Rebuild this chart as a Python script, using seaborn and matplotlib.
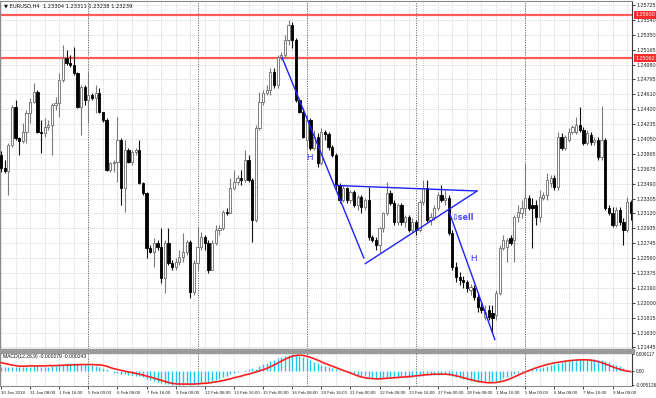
import numpy as np
import matplotlib
matplotlib.use("Agg")
import matplotlib.pyplot as plt
import seaborn as sns
from matplotlib.patches import Rectangle

sns.set_style("white")
plt.rcParams["font.family"] = ["Liberation Sans", "DejaVu Sans"]

# ---------------- data (EURUSD H4) ----------------
opens = [1.2385, 1.2369, 1.2365, 1.2397, 1.2445, 1.2406, 1.2402, 1.2414, 1.2437, 1.2451,
         1.2464, 1.2414, 1.2412, 1.2420, 1.2422, 1.2447, 1.2450, 1.2479, 1.2506, 1.2500,
         1.2497, 1.2487, 1.2445, 1.2470, 1.2454, 1.2460, 1.2456, 1.2462, 1.2439, 1.2429,
         1.2366, 1.2375, 1.2376, 1.2404, 1.2344, 1.2391, 1.2376, 1.2389, 1.2391, 1.2350,
         1.2337, 1.2269, 1.2264, 1.2275, 1.2270, 1.2231, 1.2275, 1.2250, 1.2245, 1.2251,
         1.2257, 1.2264, 1.2276, 1.2214, 1.2250, 1.2270, 1.2282, 1.2275, 1.2241, 1.2275,
         1.2291, 1.2294, 1.2314, 1.2312, 1.2344, 1.2351, 1.2356, 1.2354, 1.2379, 1.2354,
         1.2304, 1.2419, 1.2451, 1.2462, 1.2466, 1.2489, 1.2472, 1.2507, 1.2510, 1.2529,
         1.2547, 1.2529, 1.2454, 1.2439, 1.2404, 1.2429, 1.2394, 1.2407, 1.2375, 1.2414,
         1.2411, 1.2395, 1.2385, 1.2347, 1.2329, 1.2344, 1.2329, 1.2339, 1.2322, 1.2332,
         1.2320, 1.2329, 1.2282, 1.2279, 1.2272, 1.2294, 1.2312, 1.2337, 1.2325, 1.2301,
         1.2322, 1.2301, 1.2307, 1.2291, 1.2301, 1.2291, 1.2326, 1.2344, 1.2304, 1.2307,
         1.2319, 1.2335, 1.2329, 1.2331, 1.2287, 1.2245, 1.2232, 1.2229, 1.2226, 1.2216,
         1.2219, 1.2207, 1.2195, 1.2182, 1.2191, 1.2187, 1.2185, 1.2212, 1.2269, 1.2270,
         1.2281, 1.2279, 1.2307, 1.2312, 1.2319, 1.2331, 1.2322, 1.2322, 1.2307, 1.2331,
         1.2335, 1.2350, 1.2356, 1.2345, 1.2407, 1.2394, 1.2404, 1.2414, 1.2414, 1.2422,
         1.2416, 1.2400, 1.2410, 1.2401, 1.2404, 1.2382, 1.2404, 1.2319, 1.2312, 1.2297,
         1.2316, 1.2301, 1.2291, 1.2326]
highs = [1.2390, 1.2379, 1.2400, 1.2447, 1.2454, 1.2407, 1.2425, 1.2441, 1.2456, 1.2475,
         1.2466, 1.2429, 1.2431, 1.2429, 1.2450, 1.2457, 1.2487, 1.2522, 1.2516, 1.2510,
         1.2520, 1.2489, 1.2472, 1.2472, 1.2489, 1.2462, 1.2472, 1.2469, 1.2439, 1.2431,
         1.2376, 1.2379, 1.2432, 1.2406, 1.2404, 1.2394, 1.2391, 1.2394, 1.2404, 1.2351,
         1.2339, 1.2272, 1.2281, 1.2279, 1.2294, 1.2279, 1.2294, 1.2254, 1.2256, 1.2266,
         1.2287, 1.2279, 1.2279, 1.2254, 1.2295, 1.2289, 1.2285, 1.2279, 1.2279, 1.2297,
         1.2297, 1.2316, 1.2319, 1.2356, 1.2366, 1.2360, 1.2366, 1.2391, 1.2385, 1.2356,
         1.2422, 1.2464, 1.2466, 1.2472, 1.2494, 1.2494, 1.2510, 1.2514, 1.2535, 1.2554,
         1.2551, 1.2531, 1.2456, 1.2444, 1.2435, 1.2431, 1.2416, 1.2412, 1.2419, 1.2416,
         1.2414, 1.2397, 1.2387, 1.2350, 1.2347, 1.2345, 1.2341, 1.2341, 1.2335, 1.2335,
         1.2331, 1.2345, 1.2285, 1.2282, 1.2295, 1.2314, 1.2351, 1.2341, 1.2329, 1.2325,
         1.2325, 1.2310, 1.2310, 1.2306, 1.2304, 1.2329, 1.2354, 1.2354, 1.2312, 1.2322,
         1.2339, 1.2347, 1.2341, 1.2335, 1.2291, 1.2251, 1.2239, 1.2234, 1.2229, 1.2224,
         1.2222, 1.2214, 1.2201, 1.2198, 1.2198, 1.2198, 1.2216, 1.2272, 1.2285, 1.2281,
         1.2285, 1.2310, 1.2322, 1.2329, 1.2375, 1.2335, 1.2331, 1.2329, 1.2341, 1.2339,
         1.2362, 1.2360, 1.2360, 1.2414, 1.2412, 1.2410, 1.2419, 1.2422, 1.2432, 1.2445,
         1.2420, 1.2416, 1.2414, 1.2407, 1.2407, 1.2446, 1.2406, 1.2322, 1.2320, 1.2320,
         1.2320, 1.2306, 1.2332, 1.2329]
lows = [1.2364, 1.2362, 1.2335, 1.2395, 1.2404, 1.2385, 1.2400, 1.2400, 1.2425, 1.2450,
        1.2412, 1.2387, 1.2407, 1.2416, 1.2385, 1.2441, 1.2432, 1.2476, 1.2497, 1.2495,
        1.2485, 1.2444, 1.2410, 1.2447, 1.2425, 1.2454, 1.2437, 1.2437, 1.2426, 1.2365,
        1.2364, 1.2364, 1.2351, 1.2322, 1.2314, 1.2375, 1.2372, 1.2385, 1.2349, 1.2335,
        1.2256, 1.2262, 1.2245, 1.2266, 1.2225, 1.2212, 1.2247, 1.2241, 1.2241, 1.2247,
        1.2251, 1.2260, 1.2206, 1.2210, 1.2241, 1.2266, 1.2266, 1.2237, 1.2241, 1.2272,
        1.2285, 1.2291, 1.2310, 1.2312, 1.2341, 1.2347, 1.2347, 1.2351, 1.2351, 1.2276,
        1.2301, 1.2416, 1.2447, 1.2460, 1.2460, 1.2469, 1.2469, 1.2504, 1.2506, 1.2522,
        1.2519, 1.2451, 1.2437, 1.2406, 1.2394, 1.2391, 1.2391, 1.2370, 1.2372, 1.2404,
        1.2391, 1.2382, 1.2341, 1.2325, 1.2326, 1.2325, 1.2325, 1.2320, 1.2316, 1.2312,
        1.2316, 1.2279, 1.2276, 1.2266, 1.2262, 1.2289, 1.2310, 1.2322, 1.2297, 1.2297,
        1.2297, 1.2295, 1.2289, 1.2287, 1.2285, 1.2289, 1.2322, 1.2301, 1.2297, 1.2304,
        1.2316, 1.2326, 1.2322, 1.2285, 1.2241, 1.2226, 1.2222, 1.2219, 1.2214, 1.2210,
        1.2204, 1.2189, 1.2187, 1.2179, 1.2179, 1.2162, 1.2179, 1.2210, 1.2266, 1.2251,
        1.2272, 1.2251, 1.2301, 1.2306, 1.2310, 1.2316, 1.2269, 1.2297, 1.2301, 1.2329,
        1.2329, 1.2345, 1.2341, 1.2341, 1.2391, 1.2391, 1.2401, 1.2411, 1.2411, 1.2414,
        1.2397, 1.2397, 1.2397, 1.2397, 1.2379, 1.2379, 1.2316, 1.2310, 1.2295, 1.2295,
        1.2297, 1.2272, 1.2289, 1.2304]
closes = [1.2369, 1.2365, 1.2397, 1.2445, 1.2406, 1.2402, 1.2414, 1.2437, 1.2451, 1.2464,
          1.2414, 1.2412, 1.2420, 1.2422, 1.2447, 1.2450, 1.2479, 1.2506, 1.2500, 1.2497,
          1.2487, 1.2445, 1.2470, 1.2454, 1.2460, 1.2456, 1.2462, 1.2439, 1.2429, 1.2366,
          1.2375, 1.2376, 1.2404, 1.2344, 1.2391, 1.2376, 1.2389, 1.2391, 1.2350, 1.2337,
          1.2269, 1.2264, 1.2275, 1.2270, 1.2231, 1.2275, 1.2250, 1.2245, 1.2251, 1.2257,
          1.2264, 1.2276, 1.2214, 1.2250, 1.2270, 1.2282, 1.2275, 1.2241, 1.2275, 1.2291,
          1.2294, 1.2314, 1.2312, 1.2344, 1.2351, 1.2356, 1.2354, 1.2379, 1.2354, 1.2304,
          1.2419, 1.2451, 1.2462, 1.2466, 1.2489, 1.2472, 1.2507, 1.2510, 1.2529, 1.2547,
          1.2529, 1.2454, 1.2439, 1.2407, 1.2429, 1.2394, 1.2407, 1.2375, 1.2414, 1.2411,
          1.2395, 1.2385, 1.2347, 1.2329, 1.2344, 1.2329, 1.2339, 1.2322, 1.2332, 1.2320,
          1.2329, 1.2282, 1.2279, 1.2272, 1.2294, 1.2312, 1.2337, 1.2325, 1.2301, 1.2322,
          1.2301, 1.2307, 1.2291, 1.2301, 1.2291, 1.2326, 1.2344, 1.2304, 1.2307, 1.2319,
          1.2335, 1.2329, 1.2331, 1.2287, 1.2245, 1.2232, 1.2229, 1.2226, 1.2219, 1.2220,
          1.2207, 1.2195, 1.2191, 1.2189, 1.2182, 1.2181, 1.2212, 1.2269, 1.2279, 1.2279,
          1.2275, 1.2307, 1.2314, 1.2319, 1.2331, 1.2319, 1.2319, 1.2307, 1.2332, 1.2335,
          1.2354, 1.2356, 1.2345, 1.2407, 1.2394, 1.2407, 1.2414, 1.2420, 1.2422, 1.2416,
          1.2400, 1.2412, 1.2401, 1.2404, 1.2382, 1.2404, 1.2319, 1.2312, 1.2297, 1.2316,
          1.2301, 1.2291, 1.2326, 1.2312]

# MACD main values (histogram) and signal line, in units of 0.0001
macd_main = [15, 14, 13, 13, 15, 15, 14, 14, 15,
             16, 16, 15, 15, 15, 16, 17,
             20, 24, 27, 28, 28, 27, 26, 25,
             23, 20, 17, 14, 10, 5,
             -2, -6, -8, -12, -13, -15, -16, -17, -20,
             -23, -30, -34, -38, -41, -44, -46, -48, -50,
             -51, -51, -50, -49, -50, -49, -47, -45,
             -42, -40, -37, -33, -29, -24, -19, -13,
             -8, -4, 0,
             4, 7, 9, 8, 17, 24, 30,
             35, 40, 45, 50, 55, 59, 61,
             59, 55, 50, 45, 39, 33, 27, 22, 17, 13,
             9, 5, 2, -2, -5,
             -8, -11, -14, -17, -19, -22, -25, -27, -28, -27, -25,
             -24, -24, -24, -23, -22, -22, -21, -21, -19, -17, -16, -16, -15, -14, -13, -13,
             -15, -19, -23, -27, -30, -33, -35, -37, -39, -40, -41, -41, -40, -37, -32,
             -27, -22, -18, -13, -9, -5, -1,
             3, 6, 9, 12, 15, 19, 22, 25, 30, 33, 36, 39, 41,
             43, 44, 44, 44, 43, 42, 41,
             39, 36, 31, 26, 21, 16, 10, 4, -2.79]
macd_signal = [30, 27, 24, 21, 19, 17, 17, 17, 18, 18,
               18, 18, 18, 19, 19, 19, 20, 20, 21, 21,
               22, 22, 23, 23, 23, 23, 22, 22, 20, 17,
               12, 8, 5, 2, -1, -4, -6, -9, -12, -15,
               -19, -22, -26, -30, -34, -38, -42, -45, -47, -48,
               -48, -48, -48, -48, -47, -46, -45, -44, -42, -40,
               -38, -35, -32, -29, -25, -22, -19, -15, -12, -8,
               -4, 0, 4, 9, 15, 21, 28, 35, 42, 48,
               53, 56, 57, 56, 53, 49, 44, 39, 33, 27,
               22, 17, 12, 7, 2, -3, -8, -13, -18, -22,
               -25, -27, -28, -29, -29, -28, -27, -26, -25, -24,
               -23, -22, -21, -20, -18, -17, -15, -14, -13, -12,
               -12, -12, -12, -13, -15, -18, -21, -25, -28, -32,
               -35, -38, -40, -42, -43, -43, -42, -40, -37, -33,
               -28, -22, -16, -10, -4, 1, 6, 11, 15, 19,
               23, 26, 29, 31, 33, 35, 37, 38, 39, 40,
               40, 40, 39, 37, 34, 30, 25, 20, 15, 10,
               6, 2, -1, -2.43]

price_ticks = [1.25725, 1.25540, 1.25350, 1.25165, 1.24980, 1.24795, 1.24610, 1.24420,
               1.24235, 1.24050, 1.23865, 1.23675, 1.23490, 1.23305, 1.23120, 1.22935,
               1.22745, 1.22560, 1.22375, 1.22190, 1.22000, 1.21815, 1.21630, 1.21445]
time_labels = ["30 Jan 2018", "31 Jan 08:00", "1 Feb 16:00", "5 Feb 00:00", "6 Feb 08:00",
               "7 Feb 16:00", "9 Feb 00:00", "12 Feb 08:00", "13 Feb 16:00", "15 Feb 00:00",
               "16 Feb 08:00", "19 Feb 16:00", "21 Feb 00:00", "22 Feb 08:00", "23 Feb 16:00",
               "27 Feb 00:00", "28 Feb 08:00", "1 Mar 16:00", "5 Mar 00:00", "6 Mar 08:00",
               "7 Mar 16:00", "9 Mar 00:00"]
week_starts = [24, 54, 84, 114, 144]          # bar index of each Monday 00:00
resistance_levels = [1.25600, 1.25062]
macd_ticks = [0.006117, 0.0, -0.005126]
macd_tick_labels = ["0.006117", "0.00", "-0.005126"]

# drawn objects: (bar index, price) pairs
pole_line = [(77.2, 1.2507), (99.7, 1.2256)]
flag_top = [(91.8, 1.2347), (130.8, 1.2340)]
flag_bottom = [(100.0, 1.2249), (130.8, 1.2340)]
target_line = [(123.1, 1.2314), (135.7, 1.2154)]
h_labels = [(84.6, 1.2382), (129.7, 1.2256)]
sell_label = (123.9, 1.2307)

header = "EURUSD,H4  1.23304 1.23311 1.23238 1.23239"
macd_header = "MACD(12,26,9) -0.000279 -0.000243"

# ---------------- figure ----------------
W, H = 656, 398
fig = plt.figure(figsize=(W / 100, H / 100), dpi=100)
fig.patch.set_facecolor("white")


def rect(x0, y0, x1, y1):
    return [x0 / W, 1 - y1 / H, (x1 - x0) / W, (y1 - y0) / H]


ax = fig.add_axes(rect(0, 1, 632, 349))
axm = fig.add_axes(rect(0, 352, 632, 386), sharex=ax)

n = len(opens)
idx = np.arange(n)
o = np.array(opens); c = np.array(closes); hi = np.array(highs); lo = np.array(lows)
bull = c >= o

XMIN, XMAX = -0.275, 173.35
grid_kw = dict(color="#c6c6c6", lw=0.6, ls=(0, (1, 1.5)), zorder=0)
sep_kw = dict(color="#5a5a5a", lw=0.7, ls=(0, (1, 1.5)), zorder=0.5)

for a in (ax, axm):
    for xv in range(0, n, 4):
        a.axvline(xv, **grid_kw)
    for xv in week_starts:
        a.axvline(xv, **sep_kw)
for yv in price_ticks:
    ax.axhline(yv, **grid_kw)

# resistance lines
for lvl in resistance_levels:
    ax.axhline(lvl, color="#ff5b5b", lw=1.6, zorder=1)

# candles: wicks then bodies
ax.vlines(idx[bull], lo[bull], hi[bull], color="#7a7a7a", lw=0.8, zorder=2)
ax.vlines(idx[~bull], lo[~bull], hi[~bull], color="#111111", lw=0.8, zorder=2)
body_min = 0.00004
hb = np.maximum(np.abs(c - o), body_min)
ax.bar(idx[bull], hb[bull], bottom=np.minimum(o, c)[bull], width=0.62,
       color="white", edgecolor="#6a6a6a", linewidth=0.6, zorder=3)
ax.bar(idx[~bull], hb[~bull], bottom=np.minimum(o, c)[~bull], width=0.62,
       color="black", edgecolor="black", linewidth=0.6, zorder=3)

# pattern drawings
for seg in (pole_line, flag_top, flag_bottom, target_line):
    xs, ys = zip(*seg)
    ax.plot(xs, ys, color="#1f1fff", lw=1.0, zorder=4)
for hx, hy in h_labels:
    ax.text(hx, hy, "H", color="#2a2aff", fontsize=6.4, ha="center", va="center", zorder=5)
ax.text(sell_label[0], sell_label[1], "\u21e9sell", color="#4a4aff", fontsize=5.8,
        fontweight="bold", ha="left", va="center", family=["DejaVu Sans"], zorder=5)

ax.set_xlim(XMIN, XMAX)
ax.set_ylim(1.21425, 1.25775)

# right price axis
ax.yaxis.tick_right()
ax.set_yticks(price_ticks)
ax.set_yticklabels([f"{v:.5f}" for v in price_ticks])
ax.tick_params(axis="y", right=True, length=2, width=0.6, pad=1.5, labelsize=3.9,
               colors="#222222")
ax.tick_params(axis="x", bottom=False, labelbottom=False)
for lvl in resistance_levels:
    ax.annotate(f"{lvl:.5f}", xy=(1.0, lvl), xycoords=("axes fraction", "data"),
                xytext=(2.4, 0), textcoords="offset points", ha="left", va="center",
                fontsize=3.9, color="white", annotation_clip=False, zorder=10,
                bbox=dict(boxstyle="square,pad=0.25", fc="#ff2a2a", ec="none"))

# MACD panel
axm.vlines(idx, 0, np.array(macd_main) * 1e-4, color="#22c4f4", lw=1.0, zorder=2)
sns.lineplot(x=idx, y=np.array(macd_signal) * 1e-4, ax=axm, color="#ff1f1f", lw=1.2,
             zorder=3)
axm.set_ylim(-0.005489, 0.006842)
axm.set_xlim(XMIN, XMAX)
axm.yaxis.tick_right()
axm.set_yticks(macd_ticks)
axm.set_yticklabels(macd_tick_labels)
axm.tick_params(axis="y", right=True, length=1.5, width=0.6, pad=1.0, labelsize=3.4,
                colors="#222222")
xt = np.arange(0, n, 8)[:len(time_labels)]
axm.set_xticks(xt)
axm.set_xticklabels(time_labels)
axm.tick_params(axis="x", bottom=True, length=2, width=0.6, pad=1.5, labelsize=3.15,
                colors="#222222")
for lab in axm.get_xticklabels():
    lab.set_ha("left")
axm.set_xlabel("")
axm.set_ylabel("")
ax.set_ylabel("")

for a in (ax, axm):
    for s in a.spines.values():
        s.set_color("#8a8a8a")
        s.set_linewidth(0.8)
    a.spines["right"].set_color("#3a3a3a")

# headers
ax.text(0.006, 0.993, "\u25bc " + header, transform=ax.transAxes, fontsize=3.7,
        ha="left", va="top", color="#111111", family=["DejaVu Sans"])
axm.text(0.004, 0.93, macd_header, transform=axm.transAxes, fontsize=3.6,
         ha="left", va="top", color="#111111")

# panel separator
fig.patches.append(Rectangle((0, 1 - 352.5 / H), 634 / W, 3.2 / H,
                             transform=fig.transFigure, color="#9a9a9a", zorder=20))

fig.savefig("out.png", dpi=100)
